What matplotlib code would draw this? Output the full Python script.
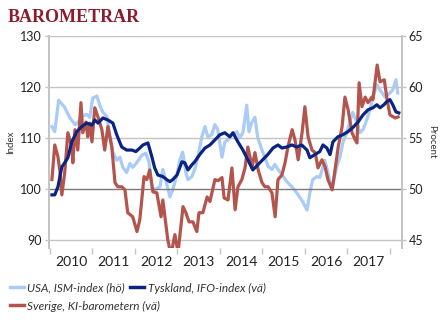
import numpy as np
import matplotlib
matplotlib.use("Agg")
import matplotlib.pyplot as plt
from matplotlib.lines import Line2D

plt.rcParams['font.family'] = ['Lato', 'DejaVu Sans']

# month offsets from Jan 2010
se_m = [0.6, 1.4, 2.3, 2.8, 3.4, 4.2, 5.1, 6.2, 6.5, 7.1,
        7.9, 8.8, 9.3, 10.2, 10.7, 11.3, 11.9, 12.7, 13.6, 14.7,
        15.5, 16.4, 17.5, 18.4, 19.2, 20.3, 21.2, 22.0, 23.4, 24.6,
        25.4, 26.6, 27.4, 28.2, 29.1, 30.2, 31.4, 31.9, 33.3, 34.2,
        35.3, 36.2, 37.6, 38.4, 39.3, 40.4, 41.5, 42.1, 43.2, 44.4,
        45.2, 46.6, 47.5, 48.6, 49.2, 50.3, 51.4, 52.3, 53.1, 54.2,
        55.1, 55.9, 57.1, 57.9, 58.8, 59.9, 60.7, 61.6, 62.7, 63.6,
        64.4, 65.5, 66.4, 67.2, 68.4, 69.2, 70.1, 71.2, 72.0, 72.9,
        74.0, 74.9, 75.7, 76.8, 77.7, 78.5, 79.7, 80.5, 81.4, 82.5,
        83.3, 84.2, 85.3, 86.2, 86.7, 87.3, 88.1, 89.0, 89.8, 90.9,
        91.2, 92.4, 93.2, 94.4, 95.2, 96.0, 97.5, 98.3]
se_v = [101.8, 108.6, 106.3, 103.7, 98.8, 103.1, 111.0, 108.2, 105.1, 111.6,
        107.6, 116.9, 111.0, 113.1, 110.2, 112.9, 109.2, 115.9, 114.1, 111.6,
        107.6, 112.2, 108.2, 101.2, 100.4, 100.4, 99.8, 95.3, 94.5, 91.6,
        93.9, 102.4, 101.8, 103.7, 99.4, 99.2, 94.5, 97.8, 90.0, 87.0,
        91.0, 87.5, 96.5, 95.3, 93.5, 93.5, 91.6, 95.3, 95.3, 98.4,
        97.5, 101.8, 101.6, 102.2, 98.2, 97.8, 104.1, 95.9, 100.4, 101.8,
        104.1, 108.2, 104.3, 107.1, 103.7, 101.2, 100.4, 100.4, 99.2, 94.5,
        101.8, 102.7, 105.1, 108.2, 111.6, 109.6, 105.7, 111.0, 116.1, 110.2,
        107.6, 107.1, 104.1, 105.7, 104.3, 101.8, 99.8, 103.7, 108.2, 112.2,
        118.0, 115.5, 111.0, 109.6, 109.0, 120.8, 116.1, 118.0, 116.9, 118.0,
        117.5, 124.3, 121.0, 121.4, 117.5, 114.5, 113.9, 114.1]

de_m = [0.6, 1.4, 2.3, 3.4, 4.2, 5.1, 6.2, 7.6, 9.0, 10.4,
        11.9, 12.7, 13.6, 15.0, 16.4, 17.8, 18.9, 20.3, 21.7, 23.2,
        24.3, 25.4, 26.3, 27.7, 28.8, 29.6, 30.5, 31.9, 33.0, 33.9,
        34.7, 35.9, 37.3, 38.1, 39.0, 40.1, 40.9, 42.3, 43.8, 45.2,
        46.6, 48.0, 49.4, 50.8, 51.7, 53.1, 54.5, 55.9, 57.3, 58.7,
        60.1, 61.5, 63.0, 64.4, 65.5, 66.9, 68.3, 69.7, 71.1, 72.6,
        73.4, 74.8, 76.2, 77.1, 78.2, 79.1, 79.9, 81.3, 82.7, 84.1,
        85.5, 87.0, 88.4, 89.8, 91.2, 92.3, 93.2, 94.3, 95.1, 96.0,
        96.8, 97.7, 98.5]
de_v = [98.8, 98.8, 100.4, 104.3, 105.1, 106.1, 109.2, 111.2, 112.2, 112.9,
        112.5, 113.5, 112.9, 113.9, 113.5, 112.9, 110.6, 108.2, 107.6, 107.6,
        107.3, 108.0, 108.6, 109.0, 106.3, 104.1, 102.7, 102.4, 101.8, 101.4,
        101.8, 102.7, 105.3, 105.1, 103.7, 104.7, 105.3, 106.7, 108.0, 108.6,
        109.6, 110.6, 111.0, 110.2, 111.0, 109.2, 107.6, 105.7, 103.7, 104.7,
        105.7, 106.7, 108.0, 108.6, 108.0, 108.2, 108.6, 108.2, 108.6, 107.6,
        106.1, 106.7, 107.3, 108.6, 108.0, 106.7, 109.2, 110.2, 110.6, 111.2,
        112.0, 113.1, 114.5, 115.5, 115.9, 116.5, 115.9, 116.5, 117.1, 117.5,
        116.5, 115.1, 114.9]

us_m = [0.6, 1.4, 2.5, 4.2, 5.6, 7.1, 7.9, 9.0, 10.4, 11.3,
        12.1, 13.3, 14.1, 15.0, 16.1, 16.9, 17.8, 18.9, 19.8, 20.6,
        21.7, 22.6, 23.4, 24.6, 26.0, 27.1, 28.0, 28.8, 29.6, 31.1,
        31.9, 32.7, 33.9, 34.7, 35.9, 36.7, 37.5, 38.4, 39.0, 40.1,
        40.9, 41.8, 42.9, 43.8, 44.6, 45.7, 46.6, 47.4, 48.6, 49.4,
        50.3, 51.4, 52.8, 53.6, 54.5, 55.6, 56.2, 57.0, 57.9, 58.7,
        59.9, 60.7, 61.6, 62.7, 63.5, 64.4, 65.5, 66.9, 68.3, 69.7,
        71.1, 72.6, 73.4, 74.2, 75.4, 76.2, 77.6, 78.5, 79.6, 81.0,
        81.9, 82.7, 83.8, 84.7, 85.5, 86.7, 87.5, 88.4, 89.5, 90.3,
        91.2, 92.3, 93.2, 94.6, 96.0, 96.8, 97.7, 98.2]
us_v = [56.1, 55.6, 58.7, 58.0, 57.0, 56.3, 56.5, 57.1, 57.3, 57.0,
        58.9, 59.1, 58.2, 57.5, 57.1, 55.3, 53.6, 52.8, 53.1, 52.1,
        51.6, 52.5, 52.1, 52.6, 53.3, 53.5, 52.6, 50.2, 49.9, 50.2,
        51.9, 50.9, 49.2, 49.9, 51.4, 52.8, 53.6, 51.6, 50.9, 51.2,
        51.9, 53.1, 55.1, 56.1, 55.1, 55.3, 56.3, 55.8, 53.1, 54.6,
        54.8, 55.3, 55.6, 55.0, 55.5, 58.2, 55.6, 56.5, 57.0, 55.0,
        53.8, 53.1, 52.2, 51.9, 52.4, 51.9, 51.4, 50.7, 50.2, 49.6,
        48.9, 47.9, 49.6, 50.9, 51.2, 51.1, 52.8, 51.6, 49.9, 52.2,
        53.1, 54.5, 55.5, 56.6, 57.5, 56.5, 55.5, 55.8, 56.8, 57.7,
        59.0, 60.2, 59.7, 59.0, 59.4, 59.7, 60.7, 59.4]

years = [2010, 2011, 2012, 2013, 2014, 2015, 2016, 2017]

c_us = '#a9cbf6'
c_de = '#0b2482'
c_se = '#b3554c'
grid_c = '#c4c4c4'

fig = plt.figure(figsize=(4.45, 3.27), dpi=100)
ax = fig.add_axes([0.110, 0.242, 0.793, 0.648])
ax2 = ax.twinx()
ax.set_zorder(ax2.get_zorder() + 1)
ax.patch.set_visible(False)

t_se = 2010 + np.array(se_m) / 12
t_de = 2010 + np.array(de_m) / 12
t_us = 2010 + np.array(us_m) / 12

ax2.plot(t_us, us_v, color=c_us, lw=2.3, solid_joinstyle='round')
ax.plot(t_se, se_v, color=c_se, lw=2.3, solid_joinstyle='round')
ax.plot(t_de, de_v, color=c_de, lw=2.3, solid_joinstyle='round')

ax.set_xlim(2009.98, 2018.28)
ax.set_ylim(88.4, 130)
ax2.set_ylim(44.2, 65)

for v in [90, 110, 120, 130]:
    ax.axhline(v, color=grid_c, lw=1.0, zorder=0)
ax.axhline(100, color='#7a7a7a', lw=1.0, zorder=0)

ax.set_yticks([90, 100, 110, 120, 130])
ax2.set_yticks([45, 50, 55, 60, 65])

ax.set_xticks(list(range(2010, 2019)))
ax.set_xticklabels([])
ax.set_xticks([y + 0.5 for y in years], minor=True)
ax.set_xticklabels([str(y) for y in years], minor=True)
ax.tick_params(axis='x', which='major', length=4, color=grid_c, width=1)
ax.tick_params(axis='x', which='minor', length=0, pad=6, labelsize=10, labelcolor='#222222')
ax.tick_params(axis='y', length=3, color=grid_c, width=1, pad=2, labelsize=9, labelcolor='#222222')
ax2.tick_params(axis='y', length=3, color=grid_c, width=1, pad=2, labelsize=9, labelcolor='#222222')

for a in (ax, ax2):
    for s in ['top', 'bottom']:
        a.spines[s].set_visible(False)
    a.spines['left'].set_color(grid_c)
    a.spines['right'].set_color(grid_c)
    a.spines['left'].set_linewidth(1.3)
    a.spines['right'].set_linewidth(1.3)

ax.set_ylabel('Index', fontsize=7, color='#333333', labelpad=4)
ax2.set_ylabel('Procent', fontsize=7, color='#333333', rotation=270, labelpad=9)

fig.text(0.018, 0.946, 'BAROMETRAR', fontsize=13, fontweight='bold',
         family='Liberation Serif', color='#8c1b2c', va='center')

h_us = Line2D([], [], color=c_us, lw=2.5)
h_de = Line2D([], [], color=c_de, lw=2.5)
h_se = Line2D([], [], color=c_se, lw=2.5)
leg_kw = dict(frameon=False, handlelength=1.2, handletextpad=0.3, columnspacing=0.4,
              borderpad=0, borderaxespad=0, loc='center left',
              prop={'style': 'italic', 'size': 8.5})
leg1 = fig.legend([h_us, h_de], ['USA, ISM-index (hö)', 'Tyskland, IFO-index (vä)'],
                  ncol=2, bbox_to_anchor=(0.022, 0.119), **leg_kw)
for tx in leg1.get_texts():
    tx.set_color('#333333')
leg2 = fig.legend([h_se], ['Sverige, KI-barometern (vä)'],
                  bbox_to_anchor=(0.022, 0.064), **leg_kw)
for tx in leg2.get_texts():
    tx.set_color('#333333')

fig.savefig('out.png', dpi=100)
